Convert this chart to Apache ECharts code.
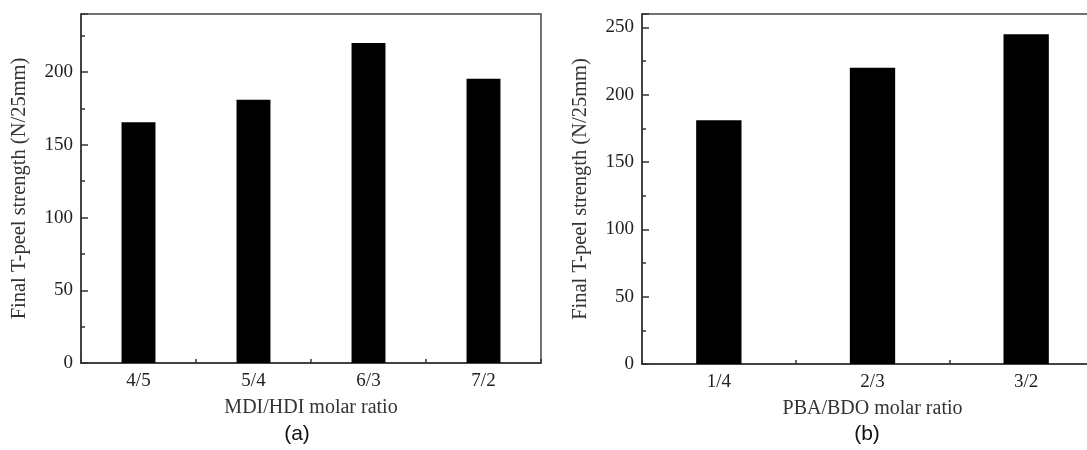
<!DOCTYPE html>
<html>
<head>
<meta charset="utf-8">
<script src="https://cdn.jsdelivr.net/npm/echarts@6/dist/echarts.min.js"></script>
<style>html,body{margin:0;padding:0;background:#fff;}#c{width:1087px;height:450px;}</style>
</head>
<body>
<div id="c"></div>
<script>
// Panel (a)
const catsA = ['4/5', '5/4', '6/3', '7/2'];
const valsA = [165.5, 181, 220, 195.5];
const nameXA = 'MDI/HDI molar ratio';
// Panel (b)
const catsB = ['1/4', '2/3', '3/2'];
const valsB = [181, 220, 245];
const nameXB = 'PBA/BDO molar ratio';
const nameY = 'Final T-peel strength (N/25mm)';
const yMaxA = 240, yMaxB = 260;

const SERIF = '"Liberation Serif", "Times New Roman", serif';
const AX = '#333';

function catAxis(idx, cats, name) {
  return {
    type: 'category', gridIndex: idx, data: cats, name: name,
    nameLocation: 'middle', nameGap: 35,
    nameTextStyle: {fontFamily: SERIF, fontSize: 20, color: '#333'},
    axisLine: {lineStyle: {color: AX, width: 1.5}},
    axisTick: {show: true, inside: true, length: 4, lineStyle: {color: AX, width: 1.5}},
    axisLabel: {fontFamily: SERIF, fontSize: 19, color: '#222', margin: 9},
    splitLine: {show: false}
  };
}
function valAxis(idx, max) {
  return {
    type: 'value', gridIndex: idx, min: 0, max: max, interval: 50,
    name: nameY, nameLocation: 'middle', nameGap: 51,
    nameTextStyle: {fontFamily: SERIF, fontSize: 20.5, color: '#333'},
    axisLine: {show: true, lineStyle: {color: AX, width: 1.5}},
    axisTick: {show: true, inside: true, length: 7, lineStyle: {color: AX, width: 1.5}},
    axisLabel: {fontFamily: SERIF, fontSize: 19, color: '#222', margin: 8,
      formatter: v => (v % 50 === 0 ? String(v) : '')},
    splitLine: {show: false}
  };
}
function minorAxis(idx, max) {
  return {
    type: 'value', gridIndex: idx, min: 0, max: max, interval: 25, position: 'left',
    axisLine: {show: false},
    axisTick: {show: true, inside: true, length: 4, lineStyle: {color: AX, width: 1.5}},
    axisLabel: {show: false}, splitLine: {show: false}
  };
}

const chart = echarts.init(document.getElementById('c'), null, {renderer: 'canvas'});
chart.setOption({
  backgroundColor: '#fff',
  animation: false,
  grid: [
    {left: 81, top: 14, width: 460, height: 349, show: true, borderColor: '#444', borderWidth: 1.5, backgroundColor: 'transparent', outerBoundsMode: 'none'},
    {left: 642, top: 14, width: 461, height: 350, show: true, borderColor: '#444', borderWidth: 1.5, backgroundColor: 'transparent', outerBoundsMode: 'none'}
  ],
  xAxis: [catAxis(0, catsA, nameXA), catAxis(1, catsB, nameXB)],
  yAxis: [valAxis(0, yMaxA), valAxis(1, yMaxB), minorAxis(0, yMaxA), minorAxis(1, yMaxB)],
  series: [
    {type: 'bar', xAxisIndex: 0, yAxisIndex: 0, data: valsA, barWidth: '29.5%', itemStyle: {color: '#000'}},
    {type: 'bar', xAxisIndex: 1, yAxisIndex: 1, data: valsB, barWidth: '29.5%', itemStyle: {color: '#000'}}
  ],
  graphic: [
    {type: 'text', x: 297, y: 434, style: {text: '(a)', font: '21px "Liberation Sans", Arial, sans-serif', fill: '#111', align: 'center', verticalAlign: 'middle', textAlign: 'center', textVerticalAlign: 'middle'}},
    {type: 'text', x: 867, y: 434, style: {text: '(b)', font: '21px "Liberation Sans", Arial, sans-serif', fill: '#111', align: 'center', verticalAlign: 'middle', textAlign: 'center', textVerticalAlign: 'middle'}}
  ]
});
</script>
</body>
</html>
